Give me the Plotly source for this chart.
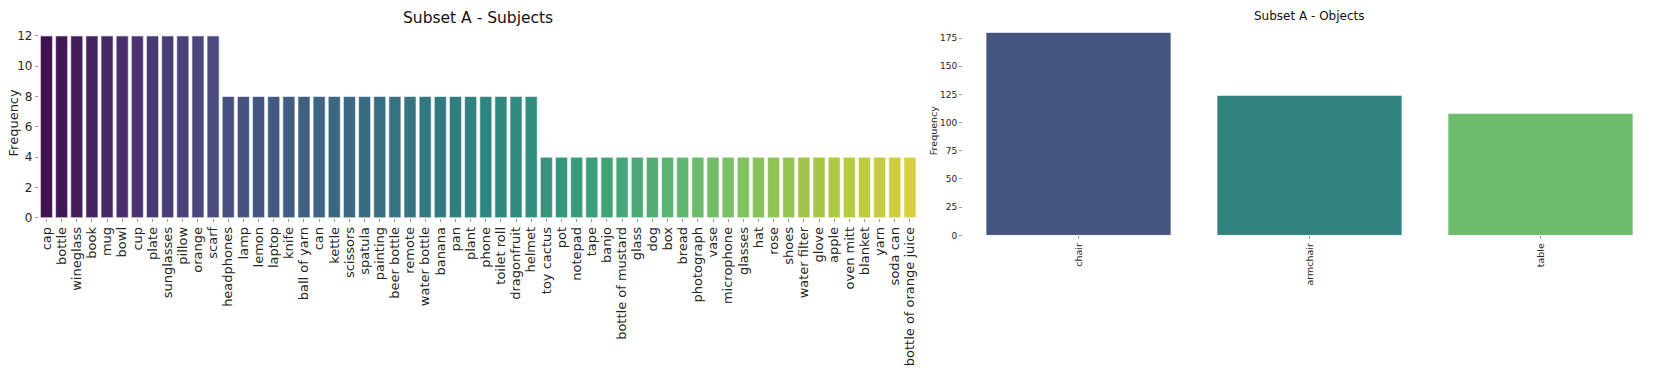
import colorsys
import plotly.graph_objects as go
from plotly.colors import sample_colorscale, unlabel_rgb

# ---------------- data ----------------
subjects = [
    "cap", "bottle", "wineglass", "book", "mug", "bowl", "cup", "plate",
    "sunglasses", "pillow", "orange", "scarf",
    "headphones", "lamp", "lemon", "laptop", "knife", "ball of yarn", "can",
    "kettle", "scissors", "spatula", "painting", "beer bottle", "remote",
    "water bottle", "banana", "pan", "plant", "phone", "toilet roll",
    "dragonfruit", "helmet",
    "toy cactus", "pot", "notepad", "tape", "banjo", "bottle of mustard",
    "glass", "dog", "box", "bread", "photograph", "vase", "microphone",
    "glasses", "hat", "rose", "shoes", "water filter", "glove", "apple",
    "oven mitt", "blanket", "yarn", "soda can", "bottle of orange juice",
]
subject_counts = [12] * 12 + [8] * 21 + [4] * 25

objects = ["chair", "armchair", "table"]
object_counts = [180, 124, 108]

subject_yticks = [0, 2, 4, 6, 8, 10, 12]
object_yticks = [0, 25, 50, 75, 100, 125, 150, 175]


# ---------------- colours (seaborn-like viridis, desaturated) ----------------
def palette(n, sat=0.75):
    pts = [(i + 1) / (n + 1) for i in range(n)]
    cols = sample_colorscale("Viridis", pts)
    out = []
    for c in cols:
        r, g, b = [v / 255 for v in unlabel_rgb(c)]
        h, l, s = colorsys.rgb_to_hls(r, g, b)
        r, g, b = colorsys.hls_to_rgb(h, l, s * sat)
        out.append("rgb(%d,%d,%d)" % (round(r * 255), round(g * 255), round(b * 255)))
    return out


W, H = 1661, 372
FONT = "DejaVu Sans"


def px_x(v):
    return v / W


def px_y(v):
    return 1 - v / H


fig = go.Figure()

fig.add_trace(go.Bar(
    x=subjects, y=subject_counts, xaxis="x", yaxis="y",
    marker=dict(color=palette(len(subjects)),
                line=dict(color="rgba(255,255,255,0.55)", width=1.2)),
    width=0.8, showlegend=False,
))
fig.add_trace(go.Bar(
    x=objects, y=object_counts, xaxis="x2", yaxis="y2",
    marker=dict(color=palette(len(objects)),
                line=dict(color="rgba(255,255,255,0.5)", width=1)),
    width=0.8, showlegend=False,
))

tick_common = dict(showgrid=False, zeroline=False, showline=False,
                   ticks="outside", ticklen=3, tickwidth=1, tickcolor="#9a9a9a")

fig.update_layout(
    width=W, height=H,
    margin=dict(l=0, r=0, t=0, b=0),
    paper_bgcolor="white", plot_bgcolor="white",
    font=dict(family=FONT, color="#262626"),
    xaxis=dict(domain=[px_x(38.9), px_x(917.5)], anchor="y",
               range=[-0.5, len(subjects) - 0.5], tickangle=-90,
               tickmode="array", tickvals=subjects, ticktext=subjects,
               tickfont=dict(size=13, color="#262626"), **tick_common),
    yaxis=dict(domain=[px_y(219), px_y(30)], anchor="x",
               range=[0, 12], tickvals=subject_yticks,
               tickfont=dict(size=12, color="#262626"), **tick_common),
    xaxis2=dict(domain=[px_x(963), px_x(1656)], anchor="y2",
                range=[-0.5, len(objects) - 0.5], tickangle=-90,
                tickmode="array", tickvals=objects, ticktext=objects,
                tickfont=dict(size=9.5, color="#262626"), **tick_common),
    yaxis2=dict(domain=[px_y(237.3), px_y(26.4)], anchor="x2",
                range=[0, 180], tickvals=object_yticks,
                tickfont=dict(size=9, color="#262626"), **tick_common),
    annotations=[
        dict(text="Subset A - Subjects", x=px_x(478), y=px_y(11),
             xref="paper", yref="paper", xanchor="center", yanchor="middle",
             showarrow=False, font=dict(size=15.5, color="#111111", family=FONT)),
        dict(text="Subset A - Objects", x=px_x(1309), y=px_y(9),
             xref="paper", yref="paper", xanchor="center", yanchor="middle",
             showarrow=False, font=dict(size=12, color="#111111", family=FONT)),
        dict(text="Frequency", x=px_x(13), y=px_y(121),
             xref="paper", yref="paper", xanchor="center", yanchor="middle",
             textangle=-90, showarrow=False,
             font=dict(size=13, color="#262626", family=FONT)),
        dict(text="Frequency", x=px_x(933), y=px_y(128),
             xref="paper", yref="paper", xanchor="center", yanchor="middle",
             textangle=-90, showarrow=False,
             font=dict(size=9.5, color="#262626", family=FONT)),
    ],
)

fig.write_html(
    "out.html",
    config={"displayModeBar": False},
    post_script="document.body.style.margin='0';document.body.style.overflow='hidden';",
)
